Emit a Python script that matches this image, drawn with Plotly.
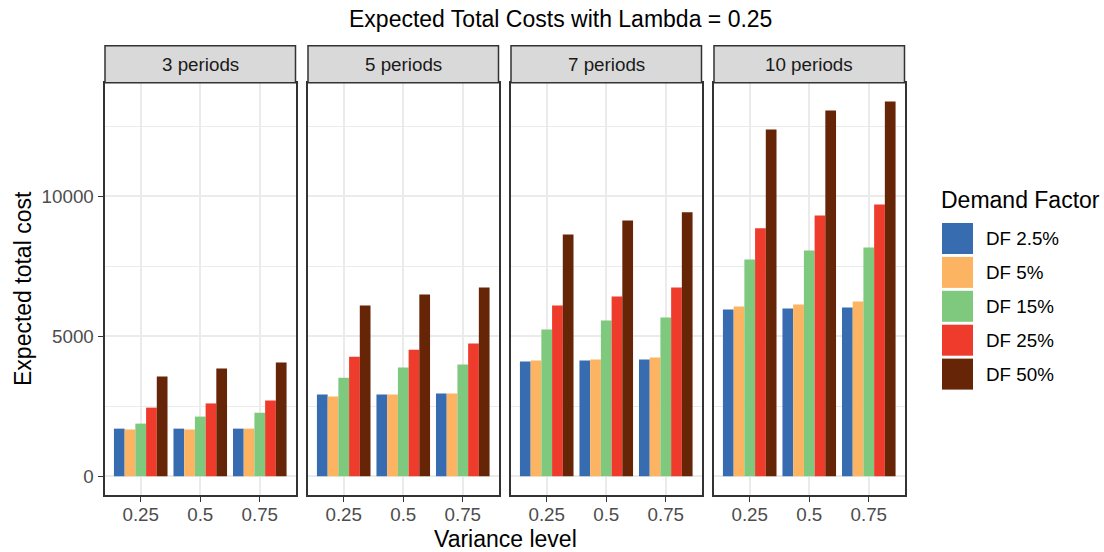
import plotly.graph_objects as go

# ---------------- data ----------------
periods = ["3 periods", "5 periods", "7 periods", "10 periods"]
variance = ["0.25", "0.5", "0.75"]
df_labels = ["DF 2.5%", "DF 5%", "DF 15%", "DF 25%", "DF 50%"]
df_colors = ["#386CB0", "#FDB462", "#7FC97F", "#EF3B2C", "#662506"]

# values ordered: panel (3,5,7,10 periods) x variance (0.25,0.5,0.75)
df_2_5 = [1700, 1700, 1700, 2920, 2920, 2950, 4100, 4130, 4170, 5950, 5990, 6020]
df_5 = [1670, 1670, 1700, 2850, 2920, 2950, 4130, 4170, 4240, 6060, 6130, 6240]
df_15 = [1880, 2130, 2270, 3520, 3880, 3990, 5240, 5560, 5670, 7740, 8060, 8170]
df_25 = [2450, 2600, 2700, 4270, 4520, 4740, 6100, 6420, 6740, 8850, 9310, 9700]
df_50 = [3560, 3850, 4060, 6100, 6490, 6740, 8630, 9130, 9420, 12380, 13060, 13380]
series = [df_2_5, df_5, df_15, df_25, df_50]

y_ticks = [0, 5000, 10000]
y_minor = [2500, 7500, 12500]

# ---------------- geometry ----------------
W, H = 1104, 552
FONT = "Liberation Sans, Arial, sans-serif"
SMALL = 18.8
BIG = 23
panel_px = [(105, 295.5), (308, 498.5), (511, 701.5), (714, 904.5)]
plot_top_px, plot_bot_px = 82.7, 495
strip_top_px = 45.7

def px_x(v):
    return v / W

def px_y(v):
    return 1 - v / H

fig = go.Figure()

ymax = max(max(s) for s in series)
yrange = [-0.05 * ymax, ymax * 1.05]

for p, pname in enumerate(periods):
    ax = "" if p == 0 else str(p + 1)
    for k, lab in enumerate(df_labels):
        fig.add_trace(go.Bar(
            x=variance,
            y=series[k][p * 3:(p + 1) * 3],
            name=lab,
            marker=dict(color=df_colors[k], line=dict(width=0)),
            showlegend=False,
            xaxis="x" + ax,
            yaxis="y" + ax,
            offsetgroup=str(k),
        ))
    xa = dict(
        domain=[px_x(panel_px[p][0]), px_x(panel_px[p][1])],
        type="category",
        range=[-0.6, 2.6],
        showgrid=True, gridcolor="#EBEBEB", gridwidth=1.6,
        showline=True, mirror=True, linecolor="#333333", linewidth=1.5,
        ticks="outside", ticklen=5.7, tickwidth=1.1, tickcolor="#333333",
        tickfont=dict(family=FONT, size=SMALL, color="#4D4D4D"),
        ticklabelstandoff=-4,
        anchor="y" + ax,
        automargin=False,
        zeroline=False,
    )
    ya = dict(
        domain=[px_y(plot_bot_px), px_y(plot_top_px)],
        range=yrange,
        tickvals=y_ticks,
        tickformat="d",
        showgrid=True, gridcolor="#EBEBEB", gridwidth=1.6,
        minor=dict(tickvals=y_minor, showgrid=True, gridcolor="#EBEBEB", gridwidth=0.8, ticks=""),
        showline=True, mirror=True, linecolor="#333333", linewidth=1.5,
        anchor="x" + ax,
        automargin=False,
        zeroline=False,
    )
    if p == 0:
        ya.update(ticks="outside", ticklen=5.7, tickwidth=1.1, tickcolor="#333333",
                  tickfont=dict(family=FONT, size=SMALL, color="#4D4D4D"),
                  showticklabels=True)
    else:
        ya.update(ticks="", showticklabels=False, matches="y")
    fig.layout["xaxis" + ax] = xa
    fig.layout["yaxis" + ax] = ya

    # strip
    fig.add_shape(type="rect", xref="paper", yref="paper",
                  x0=px_x(panel_px[p][0]), x1=px_x(panel_px[p][1]),
                  y0=px_y(plot_top_px), y1=px_y(strip_top_px),
                  fillcolor="#D9D9D9", line=dict(color="#333333", width=1.5), layer="above")
    fig.add_annotation(xref="paper", yref="paper",
                       x=px_x((panel_px[p][0] + panel_px[p][1]) / 2),
                       y=px_y((plot_top_px + strip_top_px) / 2),
                       text=pname, showarrow=False, xanchor="center", yanchor="middle",
                       font=dict(family=FONT, size=SMALL, color="#1A1A1A"))

# titles
fig.add_annotation(xref="paper", yref="paper", x=px_x(560), y=px_y(19),
                   text="Expected Total Costs with Lambda = 0.25", showarrow=False,
                   xanchor="center", yanchor="middle",
                   font=dict(family=FONT, size=BIG, color="#000000"))
fig.add_annotation(xref="paper", yref="paper", x=px_x(505), y=px_y(539),
                   text="Variance level", showarrow=False,
                   xanchor="center", yanchor="middle",
                   font=dict(family=FONT, size=BIG, color="#000000"))
fig.add_annotation(xref="paper", yref="paper", x=px_x(23), y=px_y(289),
                   text="Expected total cost", showarrow=False, textangle=-90,
                   xanchor="center", yanchor="middle",
                   font=dict(family=FONT, size=BIG, color="#000000"))

# legend (manual keys)
fig.add_annotation(xref="paper", yref="paper", x=px_x(939), y=px_y(200),
                   text="Demand Factor", showarrow=False,
                   xanchor="left", yanchor="middle",
                   font=dict(family=FONT, size=BIG, color="#000000"))
key_top = 223
pitch = 33.9
for k, lab in enumerate(df_labels):
    t = key_top + k * pitch
    fig.add_shape(type="rect", xref="paper", yref="paper",
                  x0=px_x(942), x1=px_x(973), y0=px_y(t + 31), y1=px_y(t),
                  fillcolor=df_colors[k], line=dict(width=0))
    fig.add_annotation(xref="paper", yref="paper", x=px_x(984), y=px_y(t + 15.5),
                       text=lab, showarrow=False, xanchor="left", yanchor="middle",
                       font=dict(family=FONT, size=SMALL, color="#000000"))

fig.update_layout(
    width=W, height=H,
    margin=dict(l=0, r=0, t=0, b=0),
    paper_bgcolor="white", plot_bgcolor="white",
    barmode="group", bargap=0.1, bargroupgap=0,
    showlegend=False,
    font=dict(family=FONT),
)

fig.write_html("out.html",
               config={"displayModeBar": False},
               post_script="document.body.style.margin='0px';document.body.style.overflow='hidden';")
